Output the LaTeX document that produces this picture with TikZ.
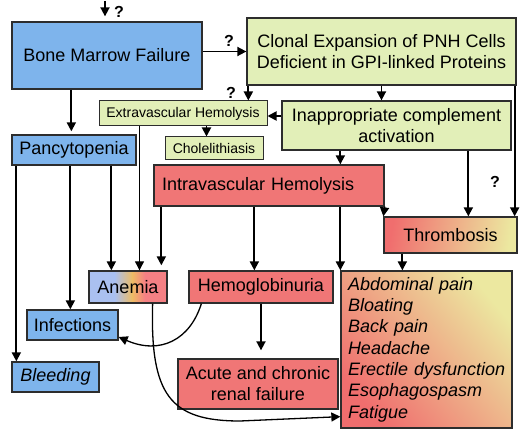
\documentclass[tikz,border=0pt]{standalone}
\usepackage{fontspec}
\setmainfont{Liberation Sans}
\usetikzlibrary{arrows.meta,calc,shadings}
\definecolor{bluefill}{RGB}{126,180,236}
\definecolor{ylwfill}{RGB}{226,239,184}
\definecolor{redfill}{RGB}{240,118,118}
\definecolor{edgec}{RGB}{45,45,45}
\definecolor{anemL}{RGB}{170,192,240}
\definecolor{anemM}{RGB}{238,188,100}
\definecolor{anemR}{RGB}{245,128,132}
\definecolor{thrL}{RGB}{240,110,110}
\definecolor{thrR}{RGB}{236,232,160}
\tikzset{
  boxbase/.style={draw=edgec, line width=1.3pt, inner sep=0pt, font=\fontsize{18}{21}\selectfont},
  bluebox/.style={boxbase, fill=bluefill},
  ylwbox/.style={boxbase, fill=ylwfill},
  redbox/.style={boxbase, fill=redfill},
  smallbox/.style={ylwbox, line width=1pt, font=\fontsize{14}{16}\selectfont},
  arr/.style={line width=1.8pt, -{Triangle[length=9pt,width=9pt]}},
  thinarr/.style={line width=0.9pt, -{Triangle[length=9pt,width=9pt]}},
  qmark/.style={font=\bfseries\fontsize{16}{18}\selectfont, inner sep=0pt},
}
\begin{document}
\begin{tikzpicture}[x=1pt,y=-1pt]
\useasboundingbox (0,0) rectangle (520,441);
% anemia background gradient
\fill[anemL] (89,271) rectangle (115,303);
\shade[left color=anemL, right color=anemM] (114.5,271) rectangle (132.5,303);
\shade[left color=anemM, right color=anemR] (132,271) rectangle (145,303);
\fill[anemR] (144.5,271) rectangle (167,303);
% boxes
\node[bluebox, minimum width=190, minimum height=67] (bone) at (107,55.5) {Bone Marrow Failure};
\node[ylwbox, minimum width=269, minimum height=67, align=center] (clonal) at (381.5,51.5) {Clonal Expansion of PNH Cells\\Deficient in GPI-linked Proteins};
\node[smallbox, minimum width=168, minimum height=25] (extra) at (183,113.5) {Extravascular Hemolysis};
\node[ylwbox, minimum width=229, minimum height=49, align=center] (inapp) at (396.5,125.5) {Inappropriate complement\\activation};
\node[smallbox, minimum width=98, minimum height=23] (chole) at (214,148.5) {Cholelithiasis};
\node[bluebox, minimum width=124, minimum height=30] (pancy) at (74,150) {Pancytopenia};
\node[redbox, minimum width=230, minimum height=41, text width=214, inner xsep=8, align=left] (intra) at (269,185.5) {Intravascular Hemolysis};
\node[boxbase, left color=thrL, right color=thrR, shading angle=80, minimum width=133, minimum height=36] (thromb) at (450.5,235) {Thrombosis};
\node[boxbase, minimum width=78, minimum height=32] (anemia) at (128,287) {Anemia};
\node[redbox, minimum width=144, minimum height=32] (hemo) at (261,287) {Hemoglobinuria};
\node[boxbase, top color=thrR, bottom color=thrL, shading angle=-50, minimum width=171, minimum height=157, text width=164, inner xsep=3.5, align=left, font=\itshape\fontsize{18}{21.3}\selectfont] (symp) at (426.5,349.5) {\hspace*{3.5pt}Abdominal pain\\\hspace*{3.5pt}Bloating\\\hspace*{3.5pt}Back pain\\\hspace*{3.5pt}Headache\\\hspace*{3.5pt}Erectile dysfunction\\\hspace*{3.5pt}Esophagospasm\\\hspace*{3.5pt}Fatigue};
\node[redbox, minimum width=160, minimum height=50, align=center] (acute) at (258,384) {Acute and chronic\\renal failure};
\node[bluebox, minimum width=91, minimum height=30] (infect) at (72.5,325) {Infections};
\node[bluebox, minimum width=87, minimum height=30, font=\itshape\fontsize{18}{21}\selectfont] (bleed) at (55.5,377) {Bleeding};
% question marks
\node[qmark] (q1) at (119,12) {?};
\node[qmark] (q2) at (229,41) {?};
\node[qmark] (q3) at (231,93) {?};
\node[qmark] (q4) at (495,182) {?};
% connectors
\coordinate (topin) at (105,1);
\draw[arr] (topin) -- ([yshift=5]topin |- bone.north);
\draw[arr] (bone.east |- clonal.west) -- (clonal.west);
\draw[arr] ([xshift=2]clonal.south west) -- ([xshift=2]clonal.south west |- extra.north);
\draw[arr] (clonal.south) -- (clonal.south |- inapp.north);
\draw[arr] ([xshift=-2]clonal.south east) -- ([xshift=-2]clonal.south east |- thromb.north);
\draw[arr] (inapp.west |- 0,116) -- (extra.east |- 0,116);
\draw[arr] ([xshift=108]extra.south west) -- ([xshift=108]extra.south west |- chole.north);
\draw[arr] ([xshift=60]bone.south west) -- ([xshift=60,yshift=3]bone.south west |- pancy.north);
\draw[arr] ([xshift=59]inapp.south west) -- ([xshift=59]inapp.south west |- intra.north);
\draw[arr] ([xshift=187]inapp.south west) -- ([xshift=187]inapp.south west |- thromb.north);
\draw[arr] (intra.south east) -- (thromb.north west);
\draw[arr] ([xshift=5]pancy.south west) -- ([xshift=5]pancy.south west |- bleed.north);
\draw[arr] ([xshift=59]pancy.south west) -- ([xshift=59]pancy.south west |- infect.north);
\draw[arr] ([xshift=100]pancy.south west) -- ([xshift=100]pancy.south west |- anemia.north);
\draw[thinarr] ([xshift=41]extra.south west) -- ([xshift=41]extra.south west |- anemia.north);
\draw[arr] ([xshift=8]intra.south west) -- ([xshift=8,yshift=5]intra.south west |- anemia.north);
\draw[arr] ([xshift=101]intra.south west) -- ([xshift=101]intra.south west |- hemo.north);
\draw[arr] ([xshift=187]intra.south west) -- ([xshift=187]intra.south west |- symp.north);
\draw[arr] ([xshift=19]thromb.south west) -- ([xshift=19]thromb.south west |- symp.north);
\draw[arr] (hemo.south) -- ([yshift=8]hemo.south |- acute.north);
\draw[line width=1.3pt, -{Triangle[length=9pt,width=9pt]}] ([xshift=13]hemo.south west) .. controls (190,340) and (160,355) .. ([yshift=-12]infect.east);
\draw[line width=1.3pt, -{Triangle[length=9pt,width=9pt]}] ([xshift=-15]anemia.south east) .. controls (150,395) and (170,421) .. (240,421) -- ([yshift=12]symp.south west);
\end{tikzpicture}
\end{document}
